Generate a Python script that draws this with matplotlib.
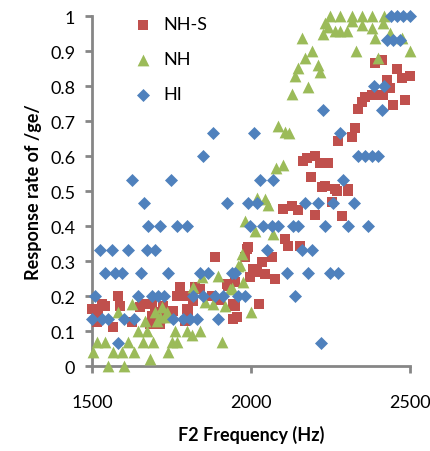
import numpy as np
import matplotlib
matplotlib.use('Agg')
import matplotlib.pyplot as plt

# NH-S (red squares)
nhs_x = [1500, 1519, 1531, 1541, 1516, 1566, 1582, 1588, 1626, 1651, 1657, 1689, 1723, 1698,
         1730, 1714, 1682, 1689, 1755, 1767, 1777, 1792, 1802, 1792, 1824, 1799, 1817, 1840,
         1877, 1887, 1902, 1925, 1928, 1943, 1943, 1950, 1956, 1950, 1987, 1981, 1990, 1997,
         2006, 2019, 2025, 2035, 2044, 2066, 2075, 2101, 2107, 2116, 2129, 2148, 2154, 2201,
         2164, 2176, 2189, 2201, 2217, 2223, 2233, 2242, 2255, 2264, 2270, 2274, 2286, 2305,
         2305, 2318, 2327, 2336, 2349, 2359, 2381, 2399, 2415, 2390, 2412, 2428, 2437, 2447,
         2459, 2475, 2484, 2500]
nhs_y = [0.163, 0.149, 0.178, 0.172, 0.126, 0.112, 0.2, 0.172, 0.126, 0.169, 0.178, 0.178, 0.172, 0.155,
         0.149, 0.12, 0.12, 0.143, 0.158, 0.2, 0.226, 0.2, 0.158, 0.129, 0.226, 0.163, 0.185, 0.22,
         0.2, 0.312, 0.19, 0.235, 0.229, 0.178, 0.135, 0.172, 0.14, 0.24, 0.335, 0.312, 0.341, 0.255,
         0.278, 0.269, 0.178, 0.298, 0.264, 0.312, 0.249, 0.45, 0.364, 0.344, 0.458, 0.447, 0.344, 0.432,
         0.585, 0.596, 0.54, 0.6, 0.579, 0.513, 0.516, 0.579, 0.47, 0.507, 0.5, 0.642, 0.43, 0.507,
         0.5, 0.656, 0.679, 0.736, 0.756, 0.77, 0.774, 0.774, 0.774, 0.865, 0.875, 0.817, 0.794, 0.745,
         0.85, 0.822, 0.76, 0.828]

# NH (green triangles)
nh_x = [1503, 1516, 1541, 1550, 1566, 1594, 1601, 1613, 1632, 1645, 1660, 1673, 1682, 1692,
        1739, 1752, 1761, 1767, 1799, 1814, 1840, 1909,
        1582, 1626, 1667, 1704, 1714, 1730, 1698, 1720, 1736, 1817, 1846, 1855, 1881, 1896,
        1918, 1934, 1940, 1965, 1975, 1959, 1972, 2000, 1981, 2013, 2019, 2044, 2053, 2069,
        2079, 2101, 2085, 2107, 2120, 2129, 2138, 2148, 2179, 2160, 2192, 2170, 2211, 2217,
        2226, 2233, 2242, 2248, 2264, 2280, 2280, 2302, 2318, 2318, 2330, 2349, 2349, 2381,
        2381, 2390, 2399, 2415, 2418, 2437, 2475, 2500]
nh_y = [0.04, 0.07, 0.07, 0.0, 0.04, 0.04, 0.0, 0.07, 0.04, 0.1, 0.07, 0.1, 0.02, 0.07,
        0.04, 0.07, 0.1, 0.07, 0.1, 0.09, 0.1, 0.07,
        0.155, 0.178, 0.13, 0.13, 0.14, 0.14, 0.155, 0.17, 0.155, 0.226, 0.255, 0.183, 0.178, 0.258,
        0.172, 0.221, 0.223, 0.29, 0.24, 0.287, 0.32, 0.155, 0.415, 0.387, 0.48, 0.478, 0.459, 0.378,
        0.567, 0.576, 0.685, 0.67, 0.665, 0.777, 0.828, 0.853, 0.797, 0.937, 0.9, 0.88, 0.86, 0.84,
        0.95, 0.98, 0.97, 1.0, 0.957, 1.0, 0.957, 0.957, 1.0, 0.985, 0.9, 1.0, 0.974, 1.0,
        0.966, 0.937, 0.88, 0.98, 1.0, 0.951, 0.937, 0.9]

# HI (blue diamonds)
hi_x = [1582, 2220,
        1500, 1531, 1550, 1601, 1632, 1755, 1786, 1808, 1830, 1896,
        1509, 1645, 1689, 1708, 1726, 1817, 1849, 1887, 1912, 1959, 1981, 2138,
        1541, 1572, 1594, 1654, 1739, 1840, 1865, 1940, 1950, 2113, 2179, 2249, 2274,
        1525, 1563, 1613, 1673, 1698, 2050, 2160, 2192,
        1675, 1714, 1767, 1799, 1997, 2038, 2066, 2085, 2132, 2148, 2233, 2305, 2368,
        1663, 1925, 1990, 2019, 2170, 2211, 2258, 2324,
        1626, 1748, 2028, 2069, 2289,
        1849, 2336, 2359, 2381, 2399,
        1881, 2009, 2280,
        2226, 2412,
        2387, 2418,
        2428, 2447, 2469,
        2440, 2460, 2480, 2500]
hi_y = [0.067] * 2 + [0.133] * 10 + [0.2] * 12 + [0.267] * 13 + [0.333] * 8 + \
       [0.4] * 13 + [0.467] * 8 + [0.533] * 5 + [0.6] * 5 + [0.667] * 3 + \
       [0.733] * 2 + [0.8] * 2 + [0.933] * 3 + [1.0] * 4

plt.rcParams['font.family'] = ['Lato', 'DejaVu Sans']

fig = plt.figure(figsize=(4.30, 4.52), dpi=100)
ax = fig.add_axes([0.214, 0.188, 0.739, 0.774])

ax.scatter(nhs_x, nhs_y, marker='s', s=56, color='#C0504D', label='NH-S', clip_on=False, zorder=3, linewidths=0)
ax.scatter(nh_x, nh_y, marker='^', s=72, color='#9BBB59', label='NH', clip_on=False, zorder=4, linewidths=0)
ax.scatter(hi_x, hi_y, marker='D', s=44, color='#4F81BD', label='HI', clip_on=False, zorder=5, linewidths=0)

ax.set_xlim(1500, 2500)
ax.set_ylim(0, 1)
ax.set_xticks([1500, 2000, 2500])
ax.set_yticks(np.arange(0, 1.01, 0.1))
ax.set_yticklabels(['0', '0.1', '0.2', '0.3', '0.4', '0.5', '0.6', '0.7', '0.8', '0.9', '1'])

for s in ['top', 'right']:
    ax.spines[s].set_visible(False)
for s in ['left', 'bottom']:
    ax.spines[s].set_color('#868686')
    ax.spines[s].set_linewidth(2)
ax.tick_params(axis='both', colors='#868686', width=2, length=5, labelcolor='black', labelsize=13)
ax.tick_params(axis='x', pad=15)
ax.tick_params(axis='y', pad=7)

ax.set_xlabel('F2 Frequency (Hz)', fontsize=13, fontweight='bold', labelpad=11)
ax.set_ylabel('Response rate of /ge/', fontsize=13, fontweight='bold', labelpad=6)

ax.legend(loc='upper left', bbox_to_anchor=(0.08, 1.02), frameon=False, fontsize=13,
          labelspacing=1.05, handletextpad=0.15, borderaxespad=0, scatterpoints=1)

fig.savefig('out.png', dpi=100)
